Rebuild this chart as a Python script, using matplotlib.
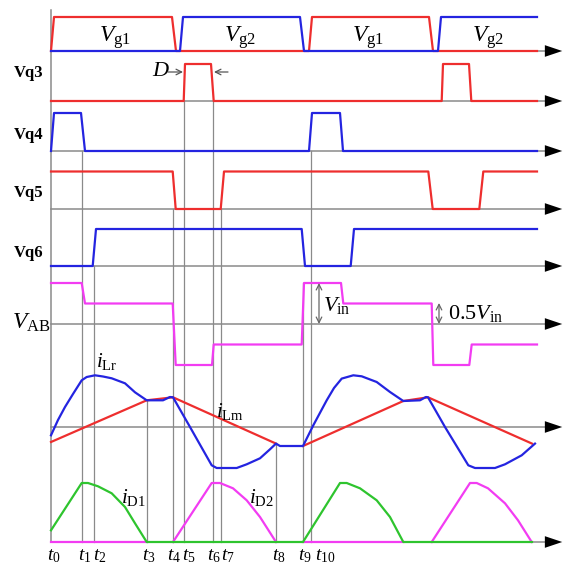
import numpy as np
import matplotlib.pyplot as plt
import matplotlib as mpl

mpl.rc('font', family='Liberation Serif')
mpl.rc('mathtext', fontset='custom', rm='Liberation Serif',
       it='Liberation Serif:italic', bf='Liberation Serif:bold')

# switching instants t0..t10 (time units, t0 = 0)
t_marks = [0, 31, 43, 96, 122, 133, 162, 170, 225, 252, 260]
t_names = ['0', '1', '2', '3', '4', '5', '6', '7', '8', '9', '10']
t_end = 486

# gate drive signals Vg1 / Vg2 (0 / 1)
vg1_t = [0, 3, 121, 125, 258, 261, 378, 382, 486]
vg1_v = [0, 1, 1, 0, 0, 1, 1, 0, 0]
vg2_t = [0, 129, 132, 249, 253, 387, 390, 486]
vg2_v = [0, 0, 1, 1, 0, 0, 1, 1]

# switch signals
vq3_t = [0, 132.7, 134, 160, 162.7, 390.7, 392, 418, 420.3, 486]
vq3_v = [0, 0, 1, 1, 0, 0, 1, 1, 0, 0]
vq4_t = [0, 3, 30, 34, 258, 261, 289, 292, 486]
vq4_v = [0, 1, 1, 0, 0, 1, 1, 0, 0]
vq5_t = [0, 121.7, 124.7, 169.7, 173, 377.3, 381.7, 428.3, 432.3, 486]
vq5_v = [1, 1, 0, 0, 1, 1, 0, 0, 1, 1]
vq6_t = [0, 41.7, 45, 250.7, 254, 299.7, 303, 486]
vq6_v = [0, 0, 1, 1, 0, 0, 1, 1]

# bridge voltage VAB (in units of Vin)
vab_t = [0, 30.7, 34, 121.7, 124.7, 161, 162.7, 250.7, 253, 290, 292.3,
         380.7, 382.3, 418.3, 420.7, 486]
vab_v = [1, 1, 0.5, 0.5, -1, -1, -0.5, -0.5, 1, 1, 0.5,
         0.5, -1, -1, -0.5, -0.5]

# resonant current iLr (arb. units)
ilr_t = [0, 7, 14, 22, 30.7, 35.7, 44, 52, 60.7, 74, 84, 95.7, 112, 119, 122,
         139, 160.7, 165.7, 185.7, 195.7, 209, 219, 225, 229, 252,
         262.3, 275.7, 283, 290.7, 302.3, 310.7, 325.7, 339, 352.3, 369, 375, 377,
         394, 417.3, 424, 444, 454, 470.7, 484]
ilr_v = [-8.3, 7, 20, 33, 46.7, 50, 51.7, 50.5, 48.7, 43.7, 34.7, 26.7, 26.7, 30, 29.7,
         0, -38.3, -41, -41, -37.3, -31.3, -22.3, -16.6, -19, -19,
         1.7, 26.7, 39, 48.4, 51.7, 50.7, 45, 35, 26, 26.7, 30, 29.7,
         0, -38.3, -41, -41, -37.3, -28.3, -16.6]

# magnetizing current iLm
ilm_t = [0, 95.7, 122, 225, np.nan, 252, 352.3, 377, 481]
ilm_v = [-15, 26.7, 29.7, -16.6, np.nan, -19, 26, 29.7, -16.6]

# diode currents
id1_t = [0, 30.7, 37, 47, 60.7, 74, 84, 95.7, 252,
         289, 295.7, 309, 325.7, 339, 352.3, 481]
id1_v = [11.7, 59, 59, 55.7, 48.7, 35, 18.7, 0, 0,
         59, 59, 53.7, 41.7, 25, 0, 0]
id2_t = [0, 95.7, np.nan, 122, 160.7, 169, 182, 195.7, 209, 225, np.nan,
         252, 352.3, np.nan, 380.7, 419, 425.7, 437, 454, 467, 480.7]
id2_v = [0, 0, np.nan, 0, 59, 59, 53.7, 41.7, 25, 0, np.nan,
         0, 0, np.nan, 0, 59, 59, 53.7, 38.7, 21.7, 0]

# ---- layout (pixel space) ----
X0 = 51
base = {'vg': 51, 'vq3': 101, 'vq4': 151, 'vq5': 209, 'vq6': 266,
        'vab': 324, 'il': 427, 'id': 542}
amp = {'vg': 34, 'vq3': 37, 'vq4': 38, 'vq5': 37.5, 'vq6': 37, 'vab': 41}

RED = '#EE2E2E'
BLUE = '#2424E0'
MAG = '#F23CF2'
GRN = '#2EC42E'
GRY = '#8A8A8A'
LW = 1.6


def xs(t):
    return X0 + np.asarray(t, dtype=float)


def ys(row, v, scale=None):
    s = amp[row] if scale is None else scale
    return base[row] - s * np.asarray(v, dtype=float)


fig = plt.figure(figsize=(5.69, 5.67), dpi=100)
ax = fig.add_axes([0, 0, 1, 1])
ax.set_xlim(0, 569)
ax.set_ylim(567, 0)
ax.axis('off')

# horizontal axes with arrowheads
for row, yb in base.items():
    ax.plot([X0, 552], [yb, yb], color=GRY, lw=1.1, zorder=1)
    ax.annotate('', xy=(565, yb), xytext=(547, yb),
                arrowprops=dict(arrowstyle='-|>,head_length=1.25,head_width=0.42',
                                color='black', lw=0, mutation_scale=10))
# vertical axis
ax.plot([X0, X0], [10, base['id']], color=GRY, lw=1.1, zorder=1)

# guide lines
guide_top = {1: base['vq4'], 2: base['vq6'], 3: base['il'] - ilr_v[11],
             4: base['vq5'], 5: base['vq3'], 6: base['vq3'], 7: base['vq5'],
             8: base['il'] - ilm_v[3], 9: base['vab'] - amp['vab'],
             10: base['vq4']}
for k, top in guide_top.items():
    ax.plot([xs(t_marks[k])] * 2, [top, base['id']], color=GRY, lw=0.9, zorder=1)

# waveforms
ax.plot(xs(vg1_t), ys('vg', vg1_v), color=RED, lw=LW, zorder=3)
ax.plot(xs(vg2_t), ys('vg', vg2_v), color=BLUE, lw=LW, zorder=3)
ax.plot(xs(vq3_t), ys('vq3', vq3_v), color=RED, lw=LW, zorder=3)
ax.plot(xs(vq4_t), ys('vq4', vq4_v), color=BLUE, lw=LW, zorder=3)
ax.plot(xs(vq5_t), ys('vq5', vq5_v), color=RED, lw=LW, zorder=3)
ax.plot(xs(vq6_t), ys('vq6', vq6_v), color=BLUE, lw=LW, zorder=3)
ax.plot(xs(vab_t), ys('vab', vab_v), color=MAG, lw=LW, zorder=3)
ax.plot(xs(ilm_t), ys('il', ilm_v, 1), color=RED, lw=LW, zorder=3)
ax.plot(xs(ilr_t), ys('il', ilr_v, 1), color=BLUE, lw=LW, zorder=4)
ax.plot(xs(id2_t), ys('id', id2_v, 1), color=MAG, lw=LW, zorder=3)
ax.plot(xs(id1_t), ys('id', id1_v, 1), color=GRN, lw=LW, zorder=4)

# row labels
for name, yl in [('Vq3', 73), ('Vq4', 135), ('Vq5', 193), ('Vq6', 253)]:
    ax.text(14, yl, name, fontsize=12, fontweight='bold', va='center', ha='left')
ax.text(12, 323, r'$V_{\rm AB}$', fontsize=17, va='center', ha='left')

for xl, lab in [(115, r'$V_{\rm g1}$'), (240, r'$V_{\rm g2}$'),
                (368, r'$V_{\rm g1}$'), (488, r'$V_{\rm g2}$')]:
    ax.text(xl, 38, lab, fontsize=17, va='center', ha='center')

ax.text(96, 362, r'$i_{\rm Lr}$', fontsize=15, va='center', ha='left')
ax.text(216, 412, r'$i_{\rm Lm}$', fontsize=15, va='center', ha='left')
ax.text(121, 497, r'$i_{\rm D1}$', fontsize=15, va='center', ha='left')
ax.text(249, 497, r'$i_{\rm D2}$', fontsize=15, va='center', ha='left')

# dead time D
ax.text(152, 72, r'$D$', fontsize=16, va='center', ha='left')
ax.annotate('', xy=(183, 72), xytext=(168, 72),
            arrowprops=dict(arrowstyle='->', color='#555555', lw=0.9,
                            shrinkA=0, shrinkB=0))
ax.annotate('', xy=(214, 72), xytext=(228, 72),
            arrowprops=dict(arrowstyle='->', color='#555555', lw=0.9,
                            shrinkA=0, shrinkB=0))

# Vin markers
ax.annotate('', xy=(319, 283), xytext=(319, 324),
            arrowprops=dict(arrowstyle='<->', color='#666666', lw=0.9,
                            shrinkA=0, shrinkB=0))
ax.text(323, 306, r'$V_{\rm in}$', fontsize=16, va='center', ha='left')
ax.annotate('', xy=(439, 303), xytext=(439, 324),
            arrowprops=dict(arrowstyle='<->', color='#666666', lw=0.9,
                            shrinkA=0, shrinkB=0))
ax.text(448, 313, r'$0.5V_{\rm in}$', fontsize=16, va='center', ha='left')

# time labels
t_lab_x = [47, 78, 93, 142, 167, 182, 207, 221, 272, 298, 315]
for xl, n in zip(t_lab_x, t_names):
    ax.text(xl, 556, r'$t_{\rm %s}$' % n, fontsize=14, va='center', ha='left')

plt.savefig('out.png', dpi=100)
